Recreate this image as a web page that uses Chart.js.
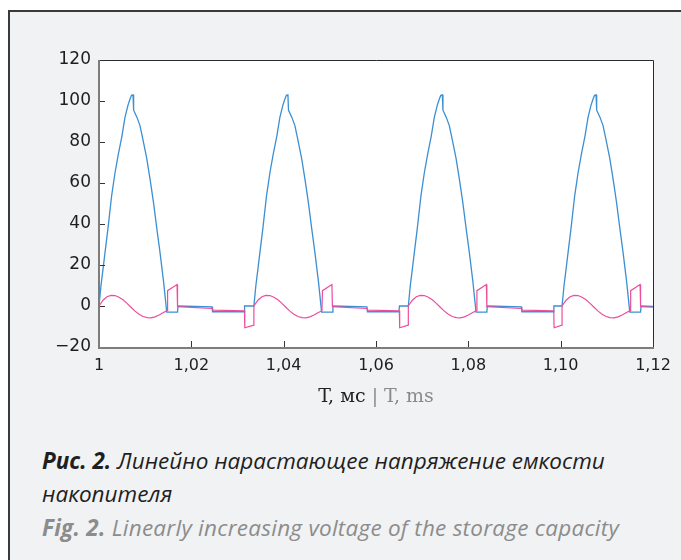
<!DOCTYPE html>
<html>
<head>
<meta charset="utf-8">
<script src="https://cdn.jsdelivr.net/npm/chart.js@4.4.1/dist/chart.umd.min.js"></script>
<style>
  html, body { margin: 0; padding: 0; background: #ffffff; }
  body { width: 681px; height: 560px; position: relative; overflow: hidden; }
  #panel { position: absolute; left: 8px; top: 10px; width: 673px; height: 550px;
           background: #f1f2f4; border-top: 2px solid #3a3a3a; border-left: 2px solid #3a3a3a;
           box-sizing: border-box; }
  #chart { position: absolute; left: 0; top: 0; }
  #xtitle { position: absolute; left: 0; width: 752px; top: 384px; text-align: center;
            font-family: "DejaVu Serif", "Liberation Serif", serif; font-size: 19px; color: #222; }
  #xtitle .en { color: #8a8a8a; }
  .cap { position: absolute; left: 42px; font-family: "Open Sans", "Noto Sans", sans-serif;
         font-style: italic; font-size: 22.5px; white-space: nowrap; }
  .cap b { font-weight: 700; }
  #c1 { top: 445px; color: #1f1f1f; }
  #c2 { top: 478px; color: #1f1f1f; }
  #c3 { top: 512px; color: #8c8c8c; letter-spacing: 0.25px; }
</style>
</head>
<body>
<div id="panel"></div>
<canvas id="chart" width="681" height="400"></canvas>
<div id="xtitle">T, мс <span class="en">| T, ms</span></div>
<div class="cap" id="c1"><b>Рис. 2.</b> Линейно нарастающее напряжение емкости</div>
<div class="cap" id="c2">накопителя</div>
<div class="cap" id="c3"><b>Fig. 2.</b> Linearly increasing voltage of the storage capacity</div>
<script>
// ---- tick labels ----
const xTickValues = [1, 1.02, 1.04, 1.06, 1.08, 1.10, 1.12];
const xTickLabels = ['1', '1,02', '1,04', '1,06', '1,08', '1,10', '1,12'];
const yTickValues = [-20, 0, 20, 40, 60, 80, 100, 120];
const yTickLabels = ['\u221220', '0', '20', '40', '60', '80', '100', '120'];

// ---- blue series (capacitor voltage) : time, ms / value ----
const blueT = [
  1.00000,1.00043,1.00087,1.00130,1.00195,1.00275,1.00347,1.00418,1.00498,1.00563,1.00628,1.00672,1.00704,1.00737,1.00750,1.00823,1.00888,1.00953,1.01034,1.01105,1.01177,1.01257,1.01322,1.01398,1.01467,1.01701,1.01712,1.02449,1.02459,1.03142,1.03153,
  1.03355,1.03398,1.03442,1.03485,1.03550,1.03630,1.03702,1.03773,1.03853,1.03918,1.03983,1.04027,1.04059,1.04092,1.04105,1.04178,1.04243,1.04308,1.04389,1.04460,1.04532,1.04612,1.04677,1.04753,1.04822,1.05056,1.05067,1.05804,1.05814,1.06497,1.06508,
  1.06700,1.06743,1.06787,1.06830,1.06895,1.06975,1.07047,1.07118,1.07198,1.07263,1.07328,1.07372,1.07404,1.07437,1.07450,1.07523,1.07588,1.07653,1.07734,1.07805,1.07877,1.07957,1.08022,1.08098,1.08167,1.08401,1.08412,1.09149,1.09159,1.09842,1.09853,
  1.10030,1.10073,1.10117,1.10160,1.10225,1.10305,1.10377,1.10448,1.10528,1.10593,1.10658,1.10702,1.10734,1.10767,1.10780,1.10853,1.10918,1.10983,1.11064,1.11135,1.11207,1.11287,1.11352,1.11428,1.11497,1.11731,1.11742,1.12000
];
const blueV = [
  0,10,18,26,38,54,65,74,83,92,98,101,102.8,103,95.5,92,88,81,72,62,51,37,26,12,-3,-3,0,-0.4,-2.8,-2.8,0,
  0,10,18,26,38,54,65,74,83,92,98,101,102.8,103,95.5,92,88,81,72,62,51,37,26,12,-3,-3,0,-0.4,-2.8,-2.8,0,
  0,10,18,26,38,54,65,74,83,92,98,101,102.8,103,95.5,92,88,81,72,62,51,37,26,12,-3,-3,0,-0.4,-2.8,-2.8,0,
  0,10,18,26,38,54,65,74,83,92,98,101,102.8,103,95.5,92,88,81,72,62,51,37,26,12,-3,-3,0,-0.2
];

// ---- pink series (current) : time, ms / value ----
const pinkT = [
  1.00000,1.00001,1.00087,1.00173,1.00260,1.00347,1.00433,1.00520,1.00607,1.00693,1.00780,1.00867,1.00953,1.01040,1.01127,1.01213,1.01300,1.01387,1.01473,1.01486,1.01690,1.01701,1.02449,1.02470,1.03150,1.03158,1.03354,
  1.03355,1.03442,1.03528,1.03615,1.03702,1.03788,1.03875,1.03962,1.04048,1.04135,1.04222,1.04308,1.04395,1.04482,1.04568,1.04655,1.04742,1.04828,1.04841,1.05045,1.05056,1.05804,1.05825,1.06505,1.06513,1.06699,
  1.06700,1.06787,1.06873,1.06960,1.07047,1.07133,1.07220,1.07307,1.07393,1.07480,1.07567,1.07653,1.07740,1.07827,1.07913,1.08000,1.08087,1.08173,1.08186,1.08390,1.08401,1.09149,1.09170,1.09850,1.09858,1.10029,
  1.10030,1.10117,1.10203,1.10290,1.10377,1.10463,1.10550,1.10637,1.10723,1.10810,1.10897,1.10983,1.11070,1.11157,1.11243,1.11330,1.11417,1.11503,1.11516,1.11720,1.11731,1.12000
];
const pinkV = [
  -9.6,0,2.8,4.5,5.2,5.1,4.3,3.0,1.3,-0.6,-2.5,-4.0,-5.1,-5.7,-5.8,-5.3,-4.4,-3.3,-2.3,7.5,10.5,-0.3,-1.2,-2.0,-2.3,-10.6,-9.3,
  0,2.8,4.5,5.2,5.1,4.3,3.0,1.3,-0.6,-2.5,-4.0,-5.1,-5.7,-5.8,-5.3,-4.4,-3.3,-2.3,7.5,10.5,-0.3,-1.2,-2.0,-2.3,-10.6,-9.3,
  0,2.8,4.5,5.2,5.1,4.3,3.0,1.3,-0.6,-2.5,-4.0,-5.1,-5.7,-5.8,-5.3,-4.4,-3.3,-2.3,7.5,10.5,-0.3,-1.2,-2.0,-2.3,-10.6,-9.3,
  0,2.8,4.5,5.2,5.1,4.3,3.0,1.3,-0.6,-2.5,-4.0,-5.1,-5.7,-5.8,-5.3,-4.4,-3.3,-2.3,7.5,10.5,-0.3,-0.6
];

const toPoints = (ts, vs) => ts.map((t, i) => ({ x: t, y: vs[i] }));

const framePlugin = {
  id: 'frame',
  beforeDatasetsDraw(chart) {
    const { ctx, chartArea: a } = chart;
    ctx.save();
    ctx.fillStyle = '#ffffff';
    ctx.fillRect(a.left, a.top, a.right - a.left, a.bottom - a.top);
    ctx.restore();
  },
  afterDatasetsDraw(chart) {
    const { ctx, chartArea: a, scales } = chart;
    ctx.save();
    ctx.strokeStyle = '#2b2b2b';
    ctx.lineWidth = 1;
    ctx.beginPath();
    ctx.moveTo(a.left, a.top + 0.5);
    ctx.lineTo(a.right + 0.5, a.top + 0.5);
    ctx.lineTo(a.right + 0.5, a.bottom);
    ctx.stroke();
    ctx.strokeStyle = '#333333';
    ctx.beginPath();
    yTickValues.forEach(v => {
      const y = Math.round(scales.y.getPixelForValue(v)) + 0.5;
      ctx.moveTo(a.left, y); ctx.lineTo(a.left + 6, y);
    });
    xTickValues.forEach(v => {
      const x = Math.round(scales.x.getPixelForValue(v)) + 0.5;
      ctx.moveTo(x, a.bottom); ctx.lineTo(x, a.bottom - 6);
    });
    ctx.stroke();
    ctx.strokeStyle = '#7d7d7d';
    ctx.lineWidth = 2;
    ctx.beginPath();
    ctx.moveTo(a.left, a.top);
    ctx.lineTo(a.left, a.bottom + 1);
    ctx.lineTo(a.right + 1, a.bottom + 1);
    ctx.stroke();
    ctx.restore();
  }
};

new Chart(document.getElementById('chart'), {
  type: 'scatter',
  data: {
    datasets: [
      { label: 'I', data: toPoints(pinkT, pinkV), showLine: true, borderColor: '#ec4e9c',
        borderWidth: 1.2, pointRadius: 0, tension: 0, fill: false },
      { label: 'U', data: toPoints(blueT, blueV), showLine: true, borderColor: '#3b8fd3',
        borderWidth: 1.3, pointRadius: 0, tension: 0, fill: false }
    ]
  },
  options: {
    responsive: false,
    devicePixelRatio: 1,
    animation: false,
    events: [],
    layout: { padding: { left: 0, right: 28, top: 60, bottom: 0 } },
    plugins: { legend: { display: false }, tooltip: { enabled: false } },
    scales: {
      x: {
        type: 'linear', min: 1, max: 1.12,
        afterBuildTicks: s => { s.ticks = xTickValues.map(v => ({ value: v })); },
        afterFit: s => { s.height = 53; },
        grid: { display: false, drawTicks: false },
        border: { display: false },
        ticks: {
          padding: 9, color: '#1e1e1e',
          font: { family: 'DejaVu Sans', size: 16 },
          maxRotation: 0, autoSkip: false,
          callback: (v) => { const i = xTickValues.findIndex(t => Math.abs(t - v) < 1e-6); return i >= 0 ? xTickLabels[i] : ''; }
        }
      },
      y: {
        type: 'linear', min: -20, max: 120,
        afterBuildTicks: s => { s.ticks = yTickValues.map(v => ({ value: v })); },
        afterFit: s => { s.width = 99; },
        grid: { display: false, drawTicks: false },
        border: { display: false },
        ticks: {
          padding: 8, color: '#1e1e1e',
          font: { family: 'DejaVu Sans', size: 17 },
          autoSkip: false,
          callback: (v) => { const i = yTickValues.indexOf(v); return i >= 0 ? yTickLabels[i] : ''; }
        }
      }
    }
  },
  plugins: [framePlugin]
});
</script>
</body>
</html>
